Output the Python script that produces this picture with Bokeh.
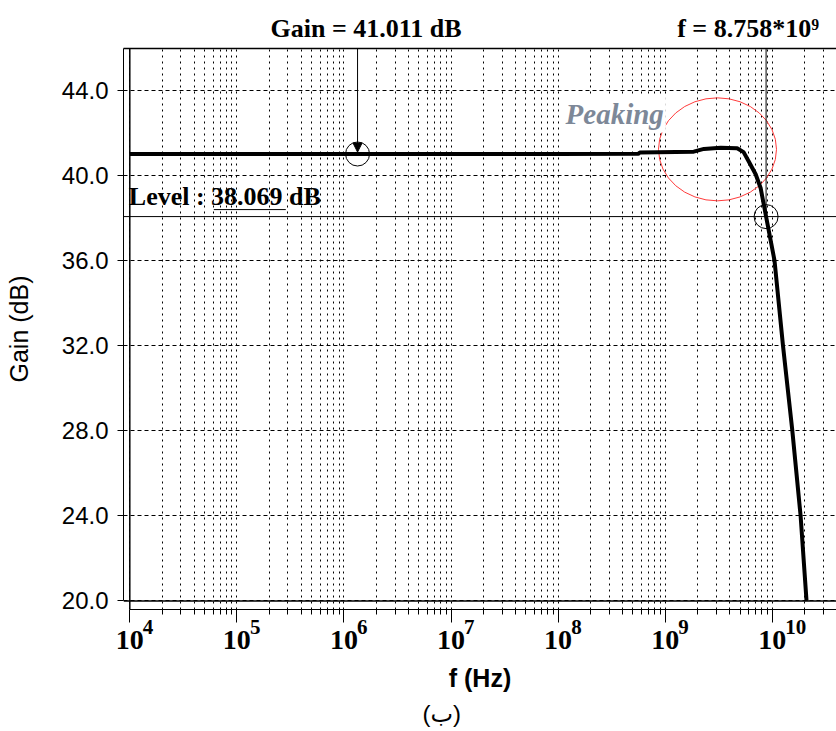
import math
from bokeh.plotting import figure
from bokeh.models import (Range1d, FixedTicker, PrintfTickFormatter, Span, Label,
                          Arrow, NormalHead, LogAxis, Title)
from bokeh.embed import file_html
from bokeh.resources import INLINE

# ---------------- data ----------------
freq_hz = [1e4, 1e5, 1e6, 1e7, 1e8, 5.6e8, 5.8e8, 1.85e9, 2.3e9, 3.3e9, 4.7e9,
           5.4e9, 6.0e9, 7.0e9, 7.8e9, 8.758e9, 1.05e10, 1.26e10, 1.54e10,
           1.84e10, 2.09e10]
gain_db = [41.011, 41.011, 41.011, 41.011, 41.011, 41.02, 41.08, 41.12, 41.25,
           41.30, 41.28, 41.10, 40.68, 40.06, 39.40, 38.069, 36.0, 32.0, 28.0,
           24.0, 20.0]

y_ticks = [20, 24, 28, 32, 36, 40, 44]
x_decades = [4, 5, 6, 7, 8, 9, 10]

cursor_gain_freq = 1.34e6      # frequency where the "Gain" cursor sits
cursor_gain_db = 41.011        # gain read by the cursor
level_db = 38.069              # level line
cross_freq = 8.758e9           # frequency where the curve crosses the level
peak_center_freq = 3.08e9      # centre of the red "Peaking" ellipse
peak_center_db = 41.23

SUP = str.maketrans("0123456789", "⁰¹²³⁴⁵⁶⁷⁸⁹")

# ---------------- figure ----------------
X0, X1 = 10 ** 3.9412, 10 ** 10.600
Y0, Y1 = 19.6, 45.97
PX_PER_DECADE = 107.07
PX_PER_DB = 21.28


def shift_x(f, px):
    """frequency lying px screen pixels right of f"""
    return f * 10 ** (px / PX_PER_DECADE)


p = figure(width=836, height=731, x_axis_type="log",
           x_range=Range1d(X0, X1), y_range=Range1d(Y0, Y1),
           output_backend="svg", toolbar_location=None,
           min_border_left=123, min_border_right=0, min_border_top=48,
           min_border_bottom=122, outline_line_color=None,
           background_fill_color="white", border_fill_color="white")

major_x = [10.0 ** d for d in x_decades]
minor_x = [k * 10.0 ** d for d in x_decades for k in range(2, 10)]

# main x axis: ticks and the "10" mantissas
xa = p.xaxis[0]
xa.ticker = FixedTicker(ticks=major_x, minor_ticks=minor_x)
xa.major_label_overrides = {10.0 ** d: "10" for d in x_decades}
xa.bounds = (1e4, X1)
xa.axis_line_color = "black"
xa.axis_line_width = 1
xa.major_tick_in = 0
xa.major_tick_out = 13
xa.minor_tick_in = 0
xa.minor_tick_out = 5
xa.major_tick_line_color = "black"
xa.minor_tick_line_color = "black"
xa.major_label_standoff = 8
xa.major_label_text_font = "Liberation Serif"
xa.major_label_text_font_style = "bold"
xa.major_label_text_font_size = "28px"
xa.major_label_text_color = "black"

# second x axis carrying the exponents (raised, right of each "10")
exp_ticks = [shift_x(10.0 ** d, 13 + 5.3 * len(str(d))) for d in x_decades]
xb = LogAxis(ticker=FixedTicker(ticks=exp_ticks, minor_ticks=[]),
             major_label_overrides={t: str(d) for t, d in zip(exp_ticks, x_decades)},
             axis_line_color=None, major_tick_line_color=None,
             minor_tick_line_color=None, major_tick_in=0, major_tick_out=0,
             minor_tick_in=0, minor_tick_out=0, major_label_standoff=-32,
             major_label_text_font="Liberation Serif",
             major_label_text_font_style="bold",
             major_label_text_font_size="21px", major_label_text_color="black",
             axis_label="f (Hz)", axis_label_text_font="Liberation Sans",
             axis_label_text_font_style="bold", axis_label_text_font_size="25px",
             axis_label_text_color="black", axis_label_standoff=27)
p.add_layout(xb, "below")

ya = p.yaxis[0]
ya.ticker = FixedTicker(ticks=y_ticks, minor_ticks=[])
ya.formatter = PrintfTickFormatter(format="%.1f")
ya.bounds = (20, Y1)
ya.axis_line_color = "black"
ya.major_tick_in = 0
ya.major_tick_out = 6
ya.minor_tick_line_color = None
ya.major_label_standoff = 9
ya.major_label_text_font = "Liberation Sans"
ya.major_label_text_font_size = "24px"
ya.major_label_text_color = "black"
ya.axis_label = "Gain (dB)"
ya.axis_label_text_font = "Liberation Sans"
ya.axis_label_text_font_style = "normal"
ya.axis_label_text_font_size = "25px"
ya.axis_label_text_color = "black"
ya.axis_label_standoff = 26

# top axis: frame top line + cursor read-outs
gain_text_freq = shift_x(cursor_gain_freq, 8.5)
cross_text_freq = shift_x(cross_freq, -18)
top = LogAxis(ticker=FixedTicker(ticks=[gain_text_freq, cross_text_freq], minor_ticks=[]),
              major_label_overrides={
                  gain_text_freq: f"Gain = {cursor_gain_db:.3f} dB",
                  cross_text_freq: "f = 8.758*10" + "9".translate(SUP)},
              axis_line_color="black", axis_line_width=1.5,
              major_tick_line_color=None, minor_tick_line_color=None,
              major_tick_in=0, major_tick_out=0, major_label_standoff=6,
              major_label_text_font="Liberation Serif",
              major_label_text_font_style="bold",
              major_label_text_font_size="26px", major_label_text_color="black")
p.add_layout(top, "above")

# caption
p.add_layout(Title(text="(ب)", align="left", offset=299, standoff=7,
                   text_font="Liberation Sans, DejaVu Sans", text_font_style="normal",
                   text_font_size="24px", text_color="black"), "below")

p.xgrid.grid_line_color = "black"
p.xgrid.grid_line_dash = "2 4"
p.xgrid.grid_line_width = 1
p.xgrid.minor_grid_line_color = "black"
p.xgrid.minor_grid_line_dash = "2 4"
p.ygrid.grid_line_color = "black"
p.ygrid.grid_line_dash = "4 3"
p.ygrid.grid_line_width = 1

# inner frame lines
p.add_layout(Span(location=1e4, dimension="height", line_color="black", line_width=1.5))
p.add_layout(Span(location=20, dimension="width", line_color="black", line_width=1.5))

# level line
p.add_layout(Span(location=level_db, dimension="width", line_color="black", line_width=1))

# peaking ellipse
p.ellipse(x=[peak_center_freq], y=[peak_center_db], width=118, height=103,
          width_units="screen", height_units="screen",
          fill_color=None, line_color="#ff3b3b", line_width=1)

# curve
p.line(freq_hz, gain_db, line_color="black", line_width=4)

# cursors
p.add_layout(Arrow(x_start=cursor_gain_freq, y_start=Y1, x_end=cursor_gain_freq,
                   y_end=cursor_gain_db + 0.09, line_color="black", line_width=1,
                   end=NormalHead(size=9, fill_color="black", line_color="black")))
p.segment(x0=[cross_freq], y0=[Y1], x1=[cross_freq], y1=[level_db],
          line_color="black", line_width=1)
p.scatter(x=[cursor_gain_freq, cross_freq], y=[cursor_gain_db, level_db],
          marker="circle", size=24, fill_color=None, line_color="black", line_width=1)

# level text with underlined value
p.add_layout(Label(x=1e4, y=level_db, x_offset=-1, y_offset=20, text_align="left",
                   text_baseline="alphabetic", text=f"Level : {level_db:.3f} dB",
                   text_font="Liberation Serif", text_font_style="bold",
                   text_font_size="26px", text_color="black"))
p.segment(x0=[shift_x(1e4, 84)], y0=[level_db + 7 / PX_PER_DB],
          x1=[shift_x(1e4, 156)], y1=[level_db + 7 / PX_PER_DB],
          line_color="black", line_width=1)

# peaking text
p.add_layout(Label(x=shift_x(1.2e8, -3), y=42.495 + 8 / PX_PER_DB, text_align="left",
                   text_baseline="alphabetic", text="Peaking",
                   text_font="Liberation Serif", text_font_style="bold italic",
                   text_font_size="29px", text_color="#7d8898",
                   background_fill_color="white", padding=2))

open("out.html", "w").write(file_html(p, INLINE))
